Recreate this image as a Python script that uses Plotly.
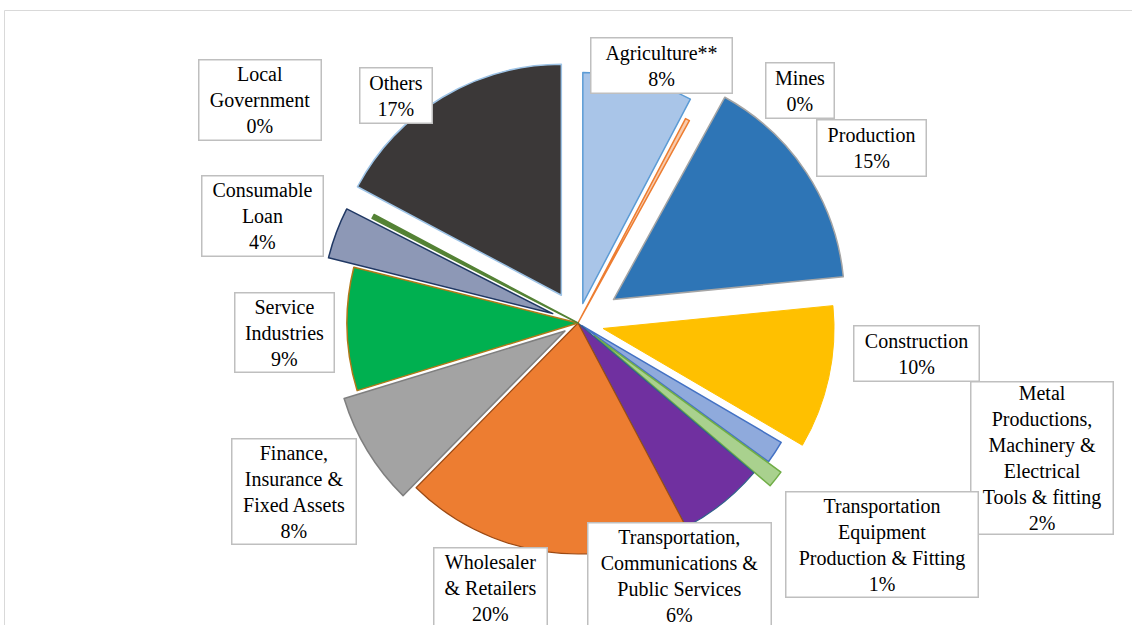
import plotly.graph_objects as go

# ---- data ----
categories = ["Agriculture**", "Mines", "Production", "Construction",
              "Metal Productions, Machinery & Electrical Tools & fitting",
              "Transportation Equipment Production & Fitting",
              "Transportation, Communications & Public Services",
              "Wholesaler & Retailers", "Finance, Insurance & Fixed Assets",
              "Service Industries", "Consumable Loan", "Local Government", "Others"]
label_lines = ["Agriculture**", "Mines", "Production", "Construction",
               "Metal<br>Productions,<br>Machinery &<br>Electrical<br>Tools & fitting",
               "Transportation<br>Equipment<br>Production & Fitting",
               "Transportation,<br>Communications &<br>Public Services",
               "Wholesaler<br>& Retailers", "Finance,<br>Insurance &<br>Fixed Assets",
               "Service<br>Industries", "Consumable<br>Loan", "Local<br>Government", "Others"]
values = [7.7, 0.3, 15.4, 10.0, 1.6, 1.2, 6.0, 20.1, 7.9, 8.6, 3.6, 0.3, 17.2]

# ---- styles ----
fill_colors = ["#A9C5E8", "#F8CBAD", "#2E75B6", "#FFC000", "#8FAADC", "#A9D18E",
               "#7030A0", "#ED7D31", "#A3A3A3", "#00B050", "#8D98B6", "#548235", "#3B3838"]
line_colors = ["#5B9BD5", "#ED7D31", "#A5A5A5", "#FFC000", "#4472C4", "#70AD47",
               "#2E5F8A", "#9C4A14", "#7F7F7F", "#B07818", "#203864", "#548235", "#9DC3E6"]
line_widths = [1.5, 1.5, 1.5, 1, 1.5, 1.5, 1.2, 1.2, 1.5, 1.5, 1.5, 1.5, 1.5]
pulls = [0.087, 0.0, 0.184, 0.111, 0.02, 0.09, 0.0, 0.0, 0.066, 0.0, 0.117, 0.0, 0.14]

# label box centres (px) and sizes (px)
box_cx = [661.5, 800, 871.5, 916.5, 1042, 882, 679.5, 490.5, 294, 284.5, 262.5, 260, 396]
box_cy = [65.5, 90.5, 148, 353.5, 458, 544.5, 575, 587.5, 491.5, 332.5, 216, 100, 95.5]
box_w = [143, 70, 111, 127, 144, 194, 185, 115, 126, 101, 123, 124, 74]
box_h = [57, 57, 58, 57, 154, 107, 107, 82, 107, 81, 82, 82, 57]

W, H = 1132, 625
total = sum(values)

fig = go.Figure(go.Pie(
    labels=categories,
    values=values,
    sort=False,
    direction="clockwise",
    rotation=0,
    pull=pulls,
    textinfo="none",
    marker=dict(colors=fill_colors, line=dict(color=line_colors, width=line_widths)),
    domain=dict(x=[0.2106, 0.8106], y=[0.0456, 0.9208]),
    showlegend=False,
))

annotations = []
BW = 1.5
for lab, v, cx, cy, bw, bh in zip(label_lines, values, box_cx, box_cy, box_w, box_h):
    pct = round(v / total * 100)
    annotations.append(dict(
        x=cx / W, y=1 - cy / H, xref="paper", yref="paper",
        xanchor="center", yanchor="middle",
        text=f"{lab}<br>{pct}%", showarrow=False, align="center",
        width=bw - 2 * BW, height=bh - 2 * BW,
        bgcolor="white", bordercolor="#BFBFBF", borderwidth=BW, borderpad=0,
        font=dict(family="Liberation Serif, Times New Roman, serif", size=20, color="black"),
    ))

fig.update_layout(
    width=W, height=H,
    margin=dict(l=0, r=0, t=0, b=0),
    paper_bgcolor="white", plot_bgcolor="white",
    annotations=annotations,
    shapes=[dict(type="rect", xref="paper", yref="paper",
                 x0=4.5 / W, x1=1.2, y0=-0.2, y1=1 - 10.5 / H,
                 line=dict(color="#D9D9D9", width=1), layer="below")],
)

fig.write_html("out.html")
